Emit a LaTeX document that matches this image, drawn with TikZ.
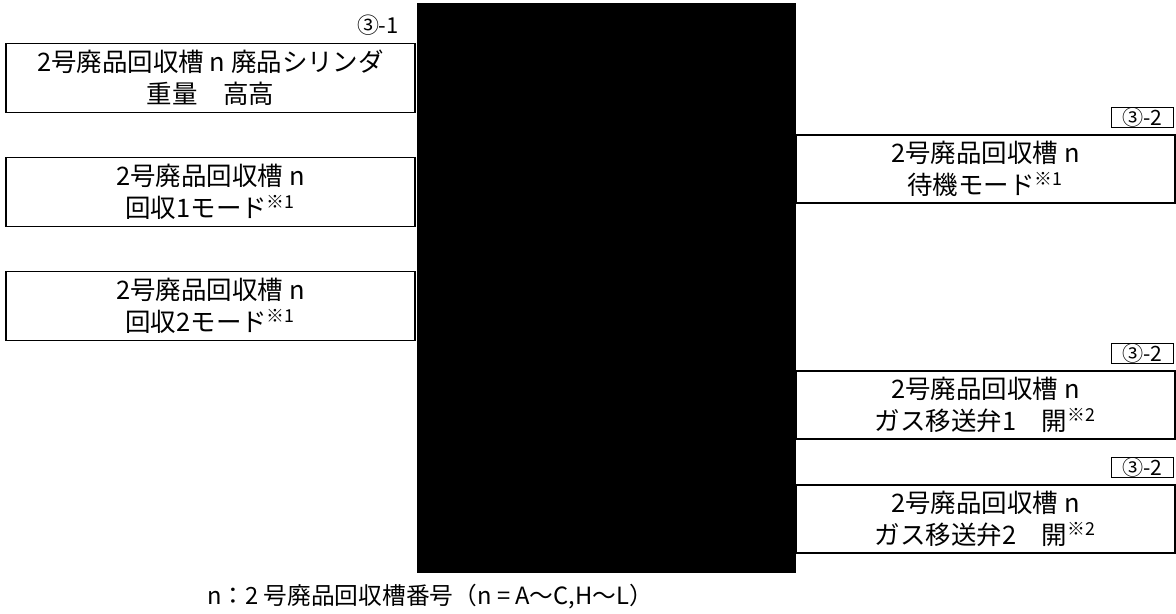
\documentclass[tikz,border=0pt]{standalone}
\usepackage{fontspec}
\setmainfont{Noto Sans CJK JP}
\usetikzlibrary{positioning}
\newcommand{\kome}[1]{\textsuperscript{※#1}}
\begin{document}
\begin{tikzpicture}[
    lbox/.style={rectangle, draw, line width=0.9pt, minimum width=8.18cm, minimum height=1.38cm, align=center, inner sep=0pt},
    rbox/.style={rectangle, draw, line width=0.6pt, minimum width=7.58cm, minimum height=1.36cm, align=center, inner sep=0pt},
    tag/.style={rectangle, draw, line width=0.5pt, minimum width=1.24cm, minimum height=0.4cm, inner sep=0pt, font=\fontsize{12pt}{12pt}\selectfont},
    every node/.style={font=\fontsize{14.5pt}{18pt}\selectfont}
]
\useasboundingbox (0,0) rectangle (23.52,-12.28);
% Masked area
\node[rectangle, fill=black, minimum width=7.58cm, minimum height=11.4cm, inner sep=0pt] (mask) at (12.13,-5.76) {};
% Left side
\node[anchor=east, font=\fontsize{12.5pt}{12pt}\selectfont] (ref1) at (8.1,-0.5) {③-1};
\node[lbox] (weight) at (4.21,-1.56) {2号廃品回収槽 n 廃品シリンダ\\重量　高高};
\node[lbox] (mode1) at (4.21,-3.84) {2号廃品回収槽 n\\回収1モード\kome{1}};
\node[lbox] (mode2) at (4.21,-6.12) {2号廃品回収槽 n\\回収2モード\kome{1}};
% Right side
\node[rbox] (wait) at (19.71,-3.38) {2号廃品回収槽 n\\待機モード\kome{1}};
\node[rbox] (valve1) at (19.71,-8.10) {2号廃品回収槽 n\\ガス移送弁1　開\kome{2}};
\node[rbox] (valve2) at (19.71,-10.38) {2号廃品回収槽 n\\ガス移送弁2　開\kome{2}};
\node[tag, above=0.14cm of wait.north east, anchor=south east, xshift=-0.04cm] (ref2a) {③-2};
\node[tag, above=0.14cm of valve1.north east, anchor=south east, xshift=-0.04cm] (ref2b) {③-2};
\node[tag, above=0.14cm of valve2.north east, anchor=south east, xshift=-0.04cm] (ref2c) {③-2};
% Footnote
\node[font=\fontsize{13.5pt}{16pt}\selectfont] (legend) at (8.6,-11.94) {n：2 号廃品回収槽番号（n = A～C,H～L）};
\end{tikzpicture}
\end{document}
